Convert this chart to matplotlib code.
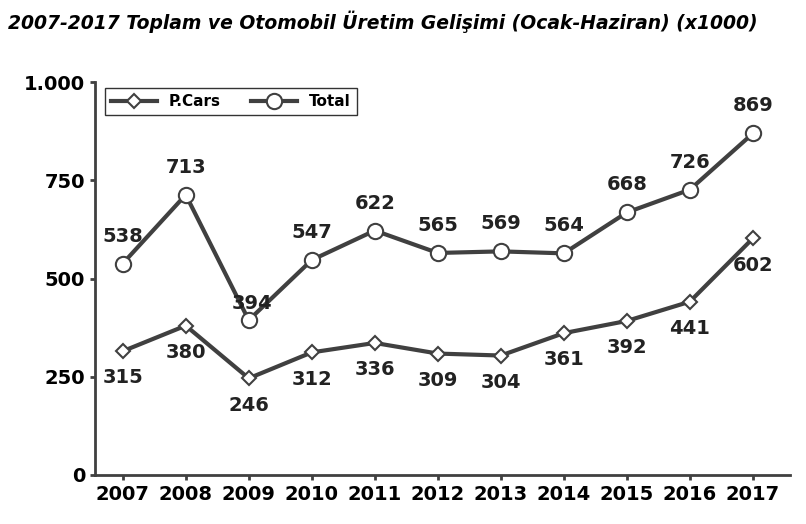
import matplotlib
matplotlib.use("Agg")
import matplotlib.pyplot as plt
from matplotlib.ticker import FuncFormatter

years = [2007, 2008, 2009, 2010, 2011, 2012, 2013, 2014, 2015, 2016, 2017]
pcars = [315, 380, 246, 312, 336, 309, 304, 361, 392, 441, 602]
total = [538, 713, 394, 547, 622, 565, 569, 564, 668, 726, 869]
title = "2007-2017 Toplam ve Otomobil Üretim Gelişimi (Ocak-Haziran) (x1000)"

c = "#404040"
fig = plt.figure(figsize=(8.06, 5.24), dpi=100)
ax = fig.add_axes([95/806, 1-475/524, 695/806, 393/524])
ax.plot(years, pcars, color=c, lw=3, marker="D", ms=7, mfc="white", mec=c, mew=1.5, label="P.Cars")
ax.plot(years, total, color=c, lw=3, marker="o", ms=11, mfc="white", mec=c, mew=1.5, label="Total")
ax.set_xlim(2006.56, 2017.59)
ax.set_ylim(0, 1000)
ax.set_yticks([0, 250, 500, 750, 1000])
ax.yaxis.set_major_formatter(FuncFormatter(lambda v, p: "1.000" if v == 1000 else f"{int(v)}"))
ax.set_xticks(years)
for s in ["top", "right"]:
    ax.spines[s].set_visible(False)
for s in ["left", "bottom"]:
    ax.spines[s].set_color(c); ax.spines[s].set_linewidth(2)
ax.tick_params(labelsize=14, width=2, color=c)
for lab in ax.get_xticklabels() + ax.get_yticklabels():
    lab.set_fontweight("bold")
fs = dict(fontsize=14, fontweight="bold", ha="center", color="#222222")
for x, v in zip(years, total):
    if x == 2009:
        ax.text(x + 0.05, v + 18, str(v), va="bottom", **fs)
    else:
        ax.text(x, v + 70, str(v), va="center", **fs)
for x, v in zip(years, pcars):
    ax.text(x, v - 68, str(v), va="center", **fs)
ax.legend(loc="upper left", ncol=2, bbox_to_anchor=(0.005, 1.0), frameon=True,
          fancybox=False, edgecolor="black", prop=dict(weight="bold", size=11),
          handlelength=3, borderaxespad=0.4)
fig.text(8/806, 1-22/524, title, fontsize=13.5, fontweight="bold", style="italic", va="center")
fig.savefig("out.png", dpi=100)
